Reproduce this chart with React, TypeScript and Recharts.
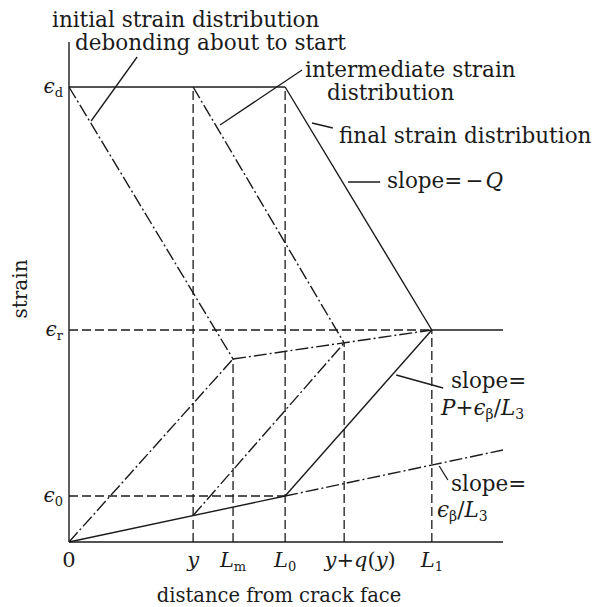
import { LineChart, Line, XAxis, YAxis, ReferenceLine } from "recharts"

// key abscissae along the bond (distance from crack face)
const xY = 28.6
const xLm = 37.8
const xL0 = 49.8
const xYq = 63.4
const xL1 = 83.6
const xEnd = 100

// key strain levels
const epsD = 91
const epsR = 42.4
const eps0 = 9.2

// tick positions and their labels
const xTickValues = [0, xY, xLm, xL0, xYq, xL1]
const xTickMain = ["0", "y", "L", "L", "y+q(y)", "L"]
const xTickSub = ["", "", "m", "0", "", "1"]
const yTickValues = [eps0, epsR, epsD]
const yTickSub = ["0", "r", "d"]

// initial distribution (debonding about to start)
const initialFall = [{ x: 0, v: epsD }, { x: xLm, v: 36.6 }]
const initialRise = [{ x: 0, v: 0 }, { x: xLm, v: 36.6 }]
const debondFront = [{ x: xLm, v: 36.6 }, { x: xL1, v: epsR }]

// intermediate distribution
const interFall = [{ x: xY, v: epsD }, { x: xYq, v: 39.8 }]
const interRise = [{ x: xY, v: 5.3 }, { x: xYq, v: 39.8 }]

// final distribution
const finalTop = [{ x: 0, v: epsD }, { x: xL0, v: epsD }]
const finalFall = [{ x: xL0, v: epsD }, { x: xL1, v: epsR }]
const finalRise = [{ x: xL0, v: eps0 }, { x: xL1, v: epsR }]
const finalFlat = [{ x: xL1, v: epsR }, { x: xEnd, v: epsR }]

// slope eps_beta / L3 line from the origin
const baseSolid = [{ x: 0, v: 0 }, { x: xL0, v: eps0 }]
const baseChain = [{ x: xL0, v: eps0 }, { x: xEnd, v: 18.4 }]

// dashed construction lines
const guideV = [
  [xY, epsD],
  [xLm, 36.6],
  [xL0, epsD],
  [xYq, 39.8],
  [xL1, epsR],
]
const guideH = [
  [epsR, xL1],
  [eps0, xL0],
]

// leader lines from the notes to the curves
const leaders = [
  [15.7, 97, 5.1, 84.2],
  [53.7, 94.4, 34.8, 83.4],
  [60.8, 82.8, 56.0, 83.8],
  [64.3, 72, 71.7, 72],
  [75.4, 33.4, 86.2, 30.8],
  [85.3, 15.2, 87.3, 12.4],
]

const INK = "#1b1b1b"
const FONT = "'DejaVu Serif', serif"
const CHAIN = "13 3 2 3"
const DASH = "9 4"

function XTick(props: any) {
  const { x, y, payload } = props
  const i = xTickValues.indexOf(payload.value)
  const main = xTickMain[i] ?? ""
  const sub = xTickSub[i] ?? ""
  const shift = main === "y+q(y)" ? 16 : 0
  return (
    <text x={x + shift} y={y + 17} textAnchor="middle" fontFamily={FONT} fontSize={21} fill={INK}>
      {main === "0" ? (
        "0"
      ) : (
        main.split("").map((c, k) => (
          <tspan key={k} fontStyle={/[a-zA-Z]/.test(c) ? "italic" : "normal"}>
            {c}
          </tspan>
        ))
      )}
      {sub && (
        <tspan fontSize={13} dy={4}>
          {sub}
        </tspan>
      )}
    </text>
  )
}

function YTick(props: any) {
  const { y, payload } = props
  const i = yTickValues.indexOf(payload.value)
  return (
    <text x={63} y={y + 6} textAnchor="end" fontFamily={FONT} fontSize={20} fill={INK}>
      <tspan fontStyle="italic">ϵ</tspan>
      <tspan fontSize={13} dy={4}>
        {yTickSub[i]}
      </tspan>
    </text>
  )
}

export default function App() {
  const series: [typeof initialFall, string | undefined][] = [
    [initialFall, CHAIN],
    [initialRise, CHAIN],
    [debondFront, CHAIN],
    [interFall, CHAIN],
    [interRise, CHAIN],
    [finalTop, undefined],
    [finalFall, undefined],
    [finalRise, undefined],
    [finalFlat, undefined],
    [baseSolid, undefined],
    [baseChain, CHAIN],
  ]

  return (
    <div style={{ position: "absolute", left: 0, top: 0, width: 593, height: 607, background: "#fff" }}>
      <LineChart width={593} height={607} margin={{ top: 42, right: 90, bottom: 35, left: 29 }}>
        <XAxis
          type="number"
          dataKey="x"
          domain={[0, 100]}
          ticks={xTickValues}
          tick={<XTick />}
          tickLine={false}
          axisLine={{ stroke: INK, strokeWidth: 1.4 }}
          height={30}
          interval={0}
        />
        <YAxis
          type="number"
          dataKey="v"
          domain={[0, 100]}
          ticks={yTickValues}
          tick={<YTick />}
          tickLine={false}
          axisLine={{ stroke: INK, strokeWidth: 1.4 }}
          width={40}
          interval={0}
        />

        {guideV.map(([gx, top], k) => (
          <ReferenceLine
            key={"v" + k}
            segment={[{ x: gx, y: 0 }, { x: gx, y: top }]}
            stroke={INK}
            strokeWidth={1.3}
            strokeDasharray={DASH}
          />
        ))}
        {guideH.map(([gy, right], k) => (
          <ReferenceLine
            key={"h" + k}
            segment={[{ x: 0, y: gy }, { x: right, y: gy }]}
            stroke={INK}
            strokeWidth={1.3}
            strokeDasharray={DASH}
          />
        ))}
        {leaders.map(([x1, y1, x2, y2], k) => (
          <ReferenceLine
            key={"l" + k}
            segment={[{ x: x1, y: y1 }, { x: x2, y: y2 }]}
            stroke={INK}
            strokeWidth={1.3}
          />
        ))}

        {series.map(([data, dash], k) => (
          <Line
            key={k}
            data={data}
            dataKey="v"
            type="linear"
            stroke={INK}
            strokeWidth={1.4}
            strokeDasharray={dash}
            dot={false}
            activeDot={false}
            isAnimationActive={false}
          />
        ))}
      </LineChart>

      <svg
        width={593}
        height={607}
        style={{ position: "absolute", left: 0, top: 0, pointerEvents: "none" }}
        fontFamily={FONT}
        fontSize={21.5}
        fill={INK}
      >
        <text x={52} y={27}>initial strain distribution</text>
        <text x={75} y={50}>debonding about to start</text>
        <text x={305} y={77}>intermediate strain</text>
        <text x={327} y={100}>distribution</text>
        <text x={339} y={143}>final strain distribution</text>
        <text x={387} y={188}>
          slope=<tspan dx={3}>−</tspan>
          <tspan dx={2} fontStyle="italic">Q</tspan>
        </text>
        <text x={451} y={388}>slope=</text>
        <text x={441} y={415}>
          <tspan fontStyle="italic">P</tspan>+<tspan fontStyle="italic">ϵ</tspan>
          <tspan fontSize={14} dy={4}>β</tspan>
          <tspan dy={-4}>/</tspan>
          <tspan fontStyle="italic">L</tspan>
          <tspan fontSize={14} dy={4}>3</tspan>
        </text>
        <text x={451} y={491}>slope=</text>
        <text x={437} y={517}>
          <tspan fontStyle="italic">ϵ</tspan>
          <tspan fontSize={14} dy={4}>β</tspan>
          <tspan dy={-4}>/</tspan>
          <tspan fontStyle="italic">L</tspan>
          <tspan fontSize={14} dy={4}>3</tspan>
        </text>
        <text x={27} y={289} fontSize={20} textAnchor="middle" transform="rotate(-90 27 289)">
          strain
        </text>
        <text x={279} y={602} fontSize={19.5} textAnchor="middle">
          distance from crack face
        </text>
      </svg>
    </div>
  )
}
